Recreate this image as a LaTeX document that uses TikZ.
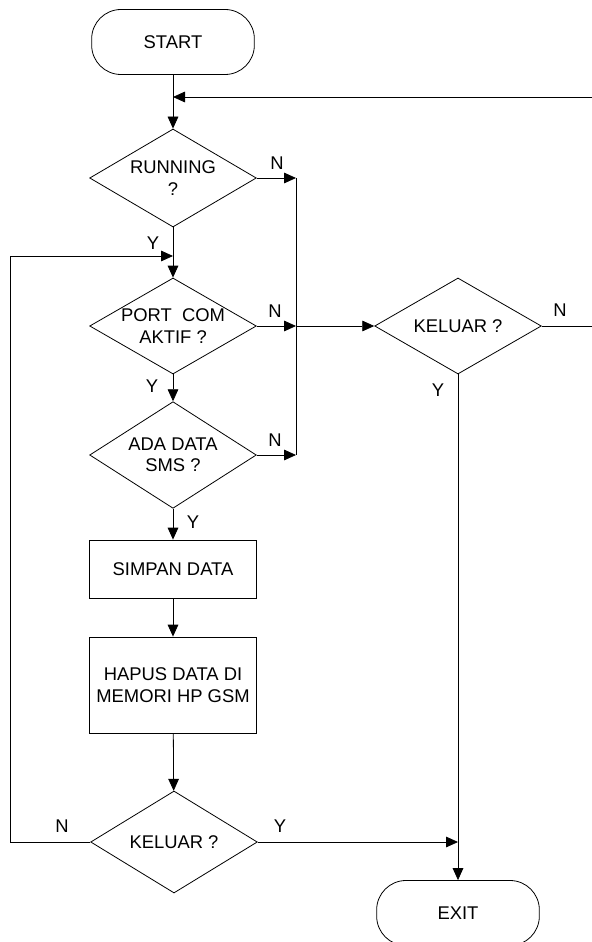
\documentclass[tikz,border=0pt]{standalone}
\usepackage{fontspec}
\setmainfont{Liberation Sans}
\usetikzlibrary{shapes.geometric,arrows.meta}

\begin{document}
\begin{tikzpicture}[x=0.75pt,y=-0.75pt,line width=0.6pt,
    font=\fontsize{13.8}{16}\selectfont,
    >={Triangle[length=9pt,width=8pt]},
    term/.style={draw,rectangle,rounded corners=22pt,minimum width=122pt,minimum height=48.75pt},
    dec/.style={draw,diamond,aspect=1.74,inner sep=0pt,align=center,minimum width=125pt},
    proc/.style={draw,rectangle,align=center,minimum width=125pt},
    lbl/.style={inner sep=0pt}]
    \useasboundingbox (0,0) rectangle (592,942);

    \node[term] (start) at (173,42) {START};
    \node[dec,minimum height=73.5pt] (run) at (173,178) {RUNNING\\?};
    \node[dec,minimum height=72pt] (port) at (173,326) {PORT~ COM\\AKTIF ?};
    \node[dec,minimum height=80pt] (ada) at (173,455) {ADA DATA\\SMS ?};
    \node[proc,minimum height=43.5pt] (simpan) at (173,569) {SIMPAN DATA};
    \node[proc,minimum height=72pt] (hapus) at (173,685) {HAPUS DATA DI\\MEMORI HP GSM};
    \node[dec,minimum height=76.5pt] (kel1) at (174,842) {KELUAR ?};
    \node[dec,minimum height=72pt] (kel2) at (458,326) {KELUAR ?};
    \node[term] (exit) at (458,913) {EXIT};

    \coordinate (m1) at (173,97);
    \coordinate (m2) at (173,256);
    \coordinate (m3) at (458,842);
    \coordinate (j1) at (296,178);
    \coordinate (j2) at (296,326);
    \coordinate (j3) at (296,455);
    \coordinate (lp1) at (10,842);
    \coordinate (lp2) at (10,256);
    \coordinate (rb) at (598,326);
    \coordinate (rt) at (598,97);

    \draw[->] (start) -- (run);
    \draw[->] (kel2.east) -- (rb) -- (rt) -- (m1);
    \draw[->] (run) -- (j1);
    \draw (j1) -- (j3);
    \draw[->] (run) -- (port);
    \draw[->] (kel1.west) -- (lp1) -- (lp2) -- (m2);
    \draw[->] (port) -- (j2);
    \draw[->] (j2) -- (kel2);
    \draw[->] (port) -- (ada);
    \draw[->] (ada) -- (j3);
    \draw[->] (ada) -- (simpan);
    \draw[->] (simpan) -- (hapus);
    \draw[->] (hapus) -- (kel1);
    \draw[->] (kel1.east) -- (m3);
    \draw[->] (kel2) -- (exit);

    \node[lbl] (nrun) at (277,163) {N};
    \node[lbl] (yrun) at (153,243) {Y};
    \node[lbl] (nport) at (275,311) {N};
    \node[lbl] (yport) at (152,386) {Y};
    \node[lbl] (nada) at (275,440) {N};
    \node[lbl] (yada) at (193,522) {Y};
    \node[lbl] (nkel1) at (62,826) {N};
    \node[lbl] (ykel1) at (280,826) {Y};
    \node[lbl] (nkel2) at (560,310) {N};
    \node[lbl] (ykel2) at (438,390) {Y};
\end{tikzpicture}
\end{document}
